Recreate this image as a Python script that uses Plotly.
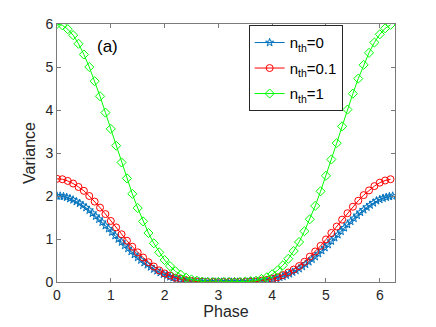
import plotly.graph_objects as go

# Phase grid for n_th=0.1 and n_th=1 curves
phase = [0.0, 0.1, 0.2, 0.3, 0.4, 0.5, 0.6, 0.7, 0.8, 0.9,
         1.0, 1.1, 1.2, 1.3, 1.4, 1.5, 1.6, 1.7, 1.8, 1.9,
         2.0, 2.1, 2.2, 2.3, 2.4, 2.5, 2.6, 2.7, 2.8, 2.9,
         3.0, 3.1, 3.2, 3.3, 3.4, 3.5, 3.6, 3.7, 3.8, 3.9,
         4.0, 4.1, 4.2, 4.3, 4.4, 4.5, 4.6, 4.7, 4.8, 4.9,
         5.0, 5.1, 5.2, 5.3, 5.4, 5.5, 5.6, 5.7, 5.8, 5.9,
         6.0, 6.1, 6.2]

# Finer phase grid for the n_th=0 curve
phase_fine = [0.00, 0.06, 0.12, 0.18, 0.24, 0.30, 0.36, 0.42, 0.48, 0.54,
              0.60, 0.66, 0.72, 0.78, 0.84, 0.90, 0.96, 1.02, 1.08, 1.14,
              1.20, 1.26, 1.32, 1.38, 1.44, 1.50, 1.56, 1.62, 1.68, 1.74,
              1.80, 1.86, 1.92, 1.98, 2.04, 2.10, 2.16, 2.22, 2.28, 2.34,
              2.40, 2.46, 2.52, 2.58, 2.64, 2.70, 2.76, 2.82, 2.88, 2.94,
              3.00, 3.06, 3.12, 3.18, 3.24, 3.30, 3.36, 3.42, 3.48, 3.54,
              3.60, 3.66, 3.72, 3.78, 3.84, 3.90, 3.96, 4.02, 4.08, 4.14,
              4.20, 4.26, 4.32, 4.38, 4.44, 4.50, 4.56, 4.62, 4.68, 4.74,
              4.80, 4.86, 4.92, 4.98, 5.04, 5.10, 5.16, 5.22, 5.28, 5.34,
              5.40, 5.46, 5.52, 5.58, 5.64, 5.70, 5.76, 5.82, 5.88, 5.94,
              6.00, 6.06, 6.12, 6.18, 6.24]

var_n0 = [2.00, 2.00, 1.99, 1.97, 1.94, 1.91, 1.87, 1.83, 1.78, 1.73,
          1.67, 1.60, 1.53, 1.46, 1.39, 1.31, 1.24, 1.16, 1.08, 1.00,
          0.93, 0.85, 0.78, 0.71, 0.64, 0.57, 0.51, 0.45, 0.40, 0.35,
          0.30, 0.26, 0.22, 0.18, 0.15, 0.12, 0.10, 0.08, 0.06, 0.05,
          0.03, 0.02, 0.02, 0.01, 0.01, 0.00, 0.00, 0.00, 0.00, 0.00,
          0.00, 0.00, 0.00, 0.00, 0.00, 0.00, 0.00, 0.00, 0.00, 0.00,
          0.01, 0.01, 0.01, 0.02, 0.03, 0.04, 0.05, 0.07, 0.08, 0.11,
          0.13, 0.16, 0.19, 0.23, 0.27, 0.31, 0.36, 0.41, 0.47, 0.53,
          0.59, 0.66, 0.73, 0.80, 0.87, 0.95, 1.03, 1.10, 1.18, 1.26,
          1.34, 1.41, 1.48, 1.55, 1.62, 1.68, 1.74, 1.79, 1.84, 1.89,
          1.92, 1.95, 1.97, 1.99, 2.00]

var_n01 = [2.40, 2.39, 2.35, 2.29, 2.21, 2.12, 2.00, 1.87, 1.73, 1.58,
           1.42, 1.27, 1.11, 0.96, 0.82, 0.69, 0.57, 0.46, 0.36, 0.27,
           0.20, 0.15, 0.10, 0.07, 0.04, 0.02, 0.01, 0.01, 0.00, 0.00,
           0.00, 0.00, 0.00, 0.00, 0.00, 0.00, 0.01, 0.01, 0.03, 0.05,
           0.07, 0.11, 0.16, 0.22, 0.29, 0.37, 0.47, 0.59, 0.71, 0.84,
           0.99, 1.14, 1.29, 1.45, 1.60, 1.75, 1.89, 2.02, 2.13, 2.23,
           2.31, 2.36, 2.39]

var_n1 = [6.00, 5.97, 5.88, 5.74, 5.54, 5.29, 5.00, 4.67, 4.32, 3.94,
          3.56, 3.17, 2.78, 2.41, 2.05, 1.72, 1.41, 1.14, 0.90, 0.69,
          0.51, 0.37, 0.25, 0.17, 0.10, 0.06, 0.03, 0.01, 0.00, 0.00,
          0.00, 0.00, 0.00, 0.00, 0.00, 0.01, 0.02, 0.03, 0.07, 0.11,
          0.18, 0.27, 0.39, 0.54, 0.72, 0.93, 1.18, 1.46, 1.77, 2.11,
          2.47, 2.85, 3.23, 3.62, 4.01, 4.38, 4.73, 5.05, 5.33, 5.57,
          5.76, 5.90, 5.98]

series_names = ["n<sub>th</sub>=0", "n<sub>th</sub>=0.1", "n<sub>th</sub>=1"]
tick_vals = [0, 1, 2, 3, 4, 5, 6]

FONT = "Liberation Sans, Arial, Helvetica, sans-serif"
AX = "#7a7a7a"

fig = go.Figure()
fig.add_trace(go.Scatter(
    x=phase_fine, y=var_n0, name=series_names[0], mode="lines+markers",
    legendgroup="a",
    line=dict(color="#0072BD", width=1),
    marker=dict(symbol="star-open", size=6, color="#0072BD", line=dict(width=1, color="#0072BD")),
))
fig.add_trace(go.Scatter(
    x=phase, y=var_n01, name=series_names[1], mode="lines+markers",
    legendgroup="b",
    line=dict(color="#FF0000", width=1),
    marker=dict(symbol="circle-open", size=7, color="#FF0000", line=dict(width=1, color="#FF0000")),
))
fig.add_trace(go.Scatter(
    x=phase, y=var_n1, name=series_names[2], mode="lines+markers",
    legendgroup="c",
    line=dict(color="#00FF00", width=1),
    marker=dict(symbol="diamond-open", size=7, color="#00FF00", line=dict(width=1, color="#00FF00")),
))

axis_common = dict(
    showline=True, linecolor=AX, linewidth=1, mirror="allticks",
    ticks="inside", ticklen=4, tickcolor=AX, tickwidth=1,
    showgrid=False, zeroline=False,
    tickfont=dict(family=FONT, size=14, color="#262626"),
    tickvals=tick_vals,
)

fig.update_layout(
    width=436, height=327,
    margin=dict(l=49, r=49, t=16, b=53, autoexpand=False),
    paper_bgcolor="white", plot_bgcolor="white",
    font=dict(family=FONT, color="#262626"),
    xaxis=dict(range=[0, 6.2832], title=dict(text="Phase", font=dict(size=16), standoff=3), **axis_common),
    yaxis=dict(range=[0, 6], title=dict(text="Variance", font=dict(size=16), standoff=5), **axis_common),
    legend=dict(
        x=0.567, y=0.995, xanchor="left", yanchor="top",
        bgcolor="white", bordercolor="#262626", borderwidth=1,
        font=dict(family=FONT, size=15, color="#000000"),
        itemwidth=30, tracegroupgap=3,
    ),
    showlegend=True,
)

fig.add_annotation(
    x=0.149, y=0.911, xref="paper", yref="paper", text="(a)",
    showarrow=False, font=dict(family=FONT, size=17, color="#000000"),
    xanchor="center", yanchor="middle",
)

fig.write_html("out.html")
